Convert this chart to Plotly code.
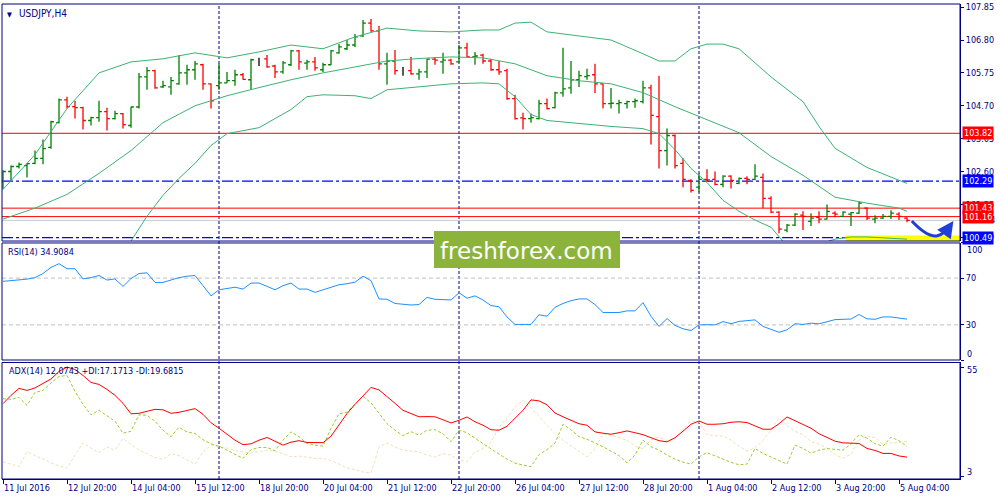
import numpy as np
import plotly.graph_objects as go

# ---- values (bar index 0 = 11 Jul 12:00) ----
tick_idx = [0, 8, 16, 24, 32, 40, 48, 56, 64, 72, 80, 88, 96, 104, 112]
tick_text = ['11 Jul 2016', '12 Jul 20:00', '14 Jul 04:00', '15 Jul 12:00', '18 Jul 20:00',
             '20 Jul 04:00', '21 Jul 12:00', '22 Jul 20:00', '26 Jul 04:00', '27 Jul 12:00',
             '28 Jul 20:00', '1 Aug 04:00', '2 Aug 12:00', '3 Aug 20:00', '5 Aug 04:00']
week_starts = [27, 57, 87]

open_px = [102.29, 102.60, 102.76, 102.79, 102.86, 103.02, 103.37, 104.16, 104.89, 104.67,
           104.64, 104.23, 104.32, 104.51, 104.29, 104.45, 104.07, 104.66, 105.62, 105.82,
           105.30, 105.30, 105.40, 105.75, 105.85, 106.01, 105.40, 105.34, 105.43, 105.50,
           105.69, 105.53, 106.13, 106.20, 105.97, 105.78, 106.01, 106.45, 106.06, 106.10,
           105.85, 106.01, 106.39, 106.52, 106.64, 106.93, 107.34, 107.09, 106.04, 106.13,
           105.82, 105.82, 105.72, 105.78, 106.19, 106.10, 106.16, 106.10, 106.55, 106.26,
           106.32, 106.13, 105.85, 105.82, 104.93, 104.31, 104.29, 104.29, 104.77, 104.64,
           105.11, 105.27, 105.53, 105.63, 105.69, 105.40, 104.77, 104.77, 104.77, 104.83,
           104.83, 105.27, 104.35, 103.27, 103.75, 102.86, 102.32, 102.10, 102.35, 102.35,
           102.19, 102.45, 102.22, 102.38, 102.35, 102.41, 101.74, 101.30, 100.73, 100.89,
           101.21, 101.01, 101.14, 101.08, 101.27, 101.17, 101.24, 101.27, 101.43, 101.08,
           101.11, 101.17, 101.24, 101.11]
high_px = [102.64, 102.79, 102.89, 102.87, 103.27, 103.62, 104.22, 104.93, 104.99, 104.86,
           104.67, 104.35, 104.86, 104.64, 104.54, 104.46, 104.67, 105.75, 105.94, 105.85,
           105.50, 105.62, 106.32, 106.01, 106.13, 106.04, 105.41, 106.04, 105.78, 105.85,
           105.75, 106.20, 106.23, 106.32, 106.01, 106.13, 106.48, 106.48, 106.17, 106.26,
           106.07, 106.48, 106.67, 106.80, 106.99, 107.44, 107.47, 107.25, 106.39, 106.48,
           105.94, 106.26, 105.88, 106.20, 106.26, 106.39, 106.20, 106.64, 106.71, 106.42,
           106.36, 106.20, 106.13, 105.88, 105.05, 104.48, 104.45, 104.89, 104.93, 105.15,
           106.55, 106.13, 105.82, 105.88, 106.04, 105.41, 105.27, 104.89, 104.86, 104.93,
           105.50, 105.37, 105.66, 103.97, 103.78, 103.02, 102.35, 102.54, 102.67, 102.60,
           102.48, 102.48, 102.41, 102.45, 102.83, 102.54, 101.81, 101.33, 100.92, 101.27,
           101.33, 101.27, 101.33, 101.55, 101.33, 101.33, 101.31, 101.65, 101.46, 101.20,
           101.24, 101.36, 101.30, 101.14]
low_px = [102.03, 102.29, 102.70, 102.41, 102.83, 102.83, 103.33, 104.13, 104.61, 104.29,
          103.94, 104.07, 104.19, 103.91, 104.26, 103.97, 104.00, 104.61, 105.21, 105.24,
          105.27, 105.05, 105.37, 105.37, 105.53, 105.21, 104.61, 105.21, 105.43, 105.34,
          105.53, 105.21, 105.97, 105.91, 105.59, 105.72, 105.97, 105.85, 105.85, 105.82,
          105.78, 106.00, 106.36, 106.48, 106.58, 106.90, 107.06, 105.85, 105.37, 105.69,
          105.66, 105.69, 105.53, 105.59, 106.01, 105.72, 106.01, 106.07, 106.23, 106.01,
          106.04, 105.82, 105.69, 104.89, 104.26, 103.94, 104.16, 104.26, 104.58, 104.61,
          104.99, 105.08, 105.30, 105.53, 105.11, 104.61, 104.61, 104.45, 104.61, 104.64,
          104.77, 103.46, 102.70, 102.79, 102.70, 102.10, 101.93, 101.93, 102.29, 102.16,
          102.10, 102.06, 102.19, 102.19, 102.32, 101.43, 101.27, 100.63, 100.66, 100.86,
          100.73, 100.86, 100.95, 101.07, 101.14, 101.14, 100.86, 101.24, 101.05, 100.95,
          101.08, 101.08, 101.05, 100.98]
close_px = [102.60, 102.76, 102.83, 102.85, 103.02, 103.33, 104.19, 104.89, 104.67, 104.64,
            104.23, 104.32, 104.51, 104.29, 104.45, 104.10, 104.66, 105.62, 105.82, 105.27,
            105.34, 105.50, 105.75, 105.85, 106.04, 105.40, 104.86, 105.43, 105.50, 105.69,
            105.54, 106.17, 106.13, 105.94, 105.78, 106.07, 106.45, 106.10, 106.10, 105.91,
            106.01, 106.45, 106.58, 106.64, 106.90, 107.34, 107.09, 106.04, 106.13, 105.82,
            105.82, 105.72, 105.78, 106.19, 106.16, 106.16, 106.04, 106.55, 106.26, 106.29,
            106.13, 105.85, 105.78, 104.93, 104.29, 104.29, 104.32, 104.77, 104.61, 105.11,
            105.24, 105.53, 105.66, 105.66, 105.40, 104.77, 104.78, 104.80, 104.83, 104.86,
            105.27, 104.39, 103.27, 103.75, 102.79, 102.35, 102.00, 102.35, 102.33, 102.19,
            102.45, 102.32, 102.38, 102.35, 102.45, 101.74, 101.30, 100.76, 100.89, 101.24,
            101.17, 101.11, 101.08, 101.33, 101.24, 101.30, 101.29, 101.59, 101.11, 101.11,
            101.17, 101.27, 101.17, 101.04]

# Bollinger bands, read at a subset of bars
bb_up_idx = [0, 4, 8, 12, 16, 20, 24, 28, 32, 36, 40, 44, 48, 52, 56, 60, 62, 64, 66, 68,
             72, 76, 80, 82, 84, 86, 88, 90, 92, 96, 100, 102, 104, 108, 112, 113]
bb_up = [102.03, 103.14, 104.61, 105.75, 106.10, 106.20, 106.39, 106.23, 106.42, 106.64,
         106.52, 106.90, 107.18, 107.09, 107.06, 107.12, 107.12, 107.34, 107.37, 107.06,
         106.93, 106.80, 106.36, 106.13, 106.13, 106.52, 106.67, 106.67, 106.52, 105.62,
         104.83, 104.04, 103.34, 102.73, 102.32, 102.22]
bb_mid_idx = [0, 4, 8, 12, 16, 20, 24, 28, 32, 36, 40, 44, 48, 52, 56, 60, 64, 68, 72, 76,
              80, 84, 88, 92, 96, 100, 104, 108, 112, 113]
bb_mid = [101.08, 101.43, 101.87, 102.54, 103.27, 104.16, 104.70, 105.02, 105.28, 105.53,
          105.75, 105.94, 106.13, 106.21, 106.26, 106.23, 106.04, 105.66, 105.50, 105.40,
          105.12, 104.67, 104.26, 103.84, 103.08, 102.48, 101.78, 101.59, 101.43, 101.33]
bb_low_idx = [14, 16, 18, 20, 22, 24, 26, 28, 32, 36, 38, 40, 44, 46, 48, 52, 56, 60, 62, 64,
              66, 68, 72, 76, 80, 82, 84, 86, 88, 90, 92, 94, 96, 98, 100, 102, 104, 106, 108,
              112, 113]
bb_low = [99.49, 100.38, 101.17, 101.84, 102.38, 102.86, 103.43, 103.81, 104.00, 104.58,
          104.99, 105.05, 105.02, 104.93, 105.21, 105.31, 105.40, 105.43, 105.40, 104.99,
          104.42, 104.23, 104.13, 104.04, 103.97, 103.81, 103.30, 102.70, 102.25, 101.68,
          101.33, 101.05, 100.82, 100.22, 100.16, 100.28, 100.44, 100.51, 100.51, 100.47,
          100.44]

rsi = [67.2, 67.8, 68.7, 69.1, 70.4, 73.9, 79.1, 82.3, 78.0, 78.0,
       69.3, 70.4, 72.2, 68.3, 69.3, 62.9, 69.6, 73.9, 74.5, 66.3,
       66.3, 68.3, 70.4, 71.6, 72.2, 63.5, 54.8, 60.0, 61.3, 62.2,
       60.6, 65.7, 65.8, 62.6, 60.0, 63.5, 65.8, 60.6, 60.6, 57.8,
       60.0, 62.6, 64.3, 65.2, 66.5, 71.6, 67.8, 52.2, 51.9, 48.3,
       47.4, 47.0, 47.4, 53.5, 51.9, 51.7, 51.3, 57.4, 52.8, 54.8,
       51.3, 46.5, 45.5, 36.8, 30.4, 30.4, 30.4, 38.7, 37.4, 45.0,
       48.3, 50.7, 52.2, 52.2, 47.4, 40.6, 40.6, 40.6, 42.0, 42.0,
       49.0, 37.4, 28.7, 35.4, 29.6, 26.7, 25.2, 30.0, 30.2, 30.0,
       32.8, 31.0, 33.0, 33.9, 34.3, 28.7, 26.1, 23.7, 25.8, 31.0,
       30.4, 31.5, 30.9, 33.0, 34.5, 34.8, 35.0, 38.9, 35.2, 34.8,
       36.8, 36.8, 36.1, 34.91]

adx = [37.68, 41.64, 44.98, 44.02, 45.21, 47.36, 49.51, 53.09, 55.23, 54.04,
       51.18, 47.84, 46.88, 44.50, 41.64, 37.82, 32.81, 33.05, 34.01, 34.96,
       34.72, 33.05, 33.53, 34.48, 35.29, 32.57, 28.52, 25.90, 23.03, 20.17,
       18.03, 18.41, 20.17, 21.46, 19.70, 17.79, 19.22, 19.93, 19.07, 18.98,
       18.98, 22.08, 27.80, 32.91, 37.34, 41.16, 45.45, 44.26, 41.16, 37.82,
       34.48, 32.81, 31.38, 31.48, 31.38, 29.95, 28.42, 29.71, 31.29, 29.00,
       27.33, 25.18, 24.94, 26.85, 30.52, 34.48, 39.49, 39.01, 37.11, 33.19,
       31.38, 29.71, 28.04, 27.33, 24.13, 23.51, 23.03, 23.75, 24.61, 23.75,
       22.80, 21.36, 19.93, 19.36, 21.36, 24.47, 27.80, 29.38, 27.80, 27.80,
       28.04, 28.76, 29.00, 28.61, 26.85, 25.42, 25.42, 28.04, 31.29, 29.38,
       27.57, 25.90, 23.27, 21.36, 19.70, 18.88, 18.60, 18.60, 16.21, 15.26,
       13.83, 13.83, 12.60, 12.07]
plus_di = [40.06, 39.73, 40.68, 36.87, 43.07, 44.02, 47.60, 50.70, 51.18, 43.55,
           37.34, 32.34, 34.48, 31.86, 29.24, 23.51, 24.47, 32.34, 32.10, 29.24,
           24.94, 21.84, 26.37, 24.13, 23.37, 20.41, 18.41, 17.31, 15.40, 13.49,
           11.44, 15.64, 16.69, 16.69, 15.16, 20.17, 24.13, 21.84, 18.60, 17.79,
           17.31, 25.90, 32.81, 33.62, 37.34, 41.16, 38.06, 33.05, 28.14, 24.94,
           22.32, 24.23, 22.56, 24.94, 25.18, 23.27, 19.46, 24.94, 23.75, 21.13,
           18.60, 15.64, 13.49, 11.11, 9.20, 8.25, 7.53, 13.26, 15.64, 18.74,
           27.80, 25.18, 21.84, 20.65, 18.98, 17.07, 14.93, 12.78, 9.34, 13.02,
           20.17, 17.07, 15.40, 13.02, 11.11, 9.68, 8.72, 12.21, 14.21, 12.78,
           11.11, 9.53, 8.39, 8.72, 16.21, 13.83, 12.06, 10.39, 8.72, 17.79,
           16.21, 13.97, 15.40, 16.12, 15.64, 15.40, 18.50, 22.80, 21.13, 18.50,
           17.31, 21.60, 19.93, 17.17]
minus_di = [9.82, 8.72, 7.53, 14.59, 13.02, 11.11, 9.20, 7.77, 6.67, 13.02,
            18.88, 16.36, 14.21, 16.98, 15.40, 20.98, 18.26, 15.40, 13.73, 11.82,
            11.11, 13.73, 12.78, 10.87, 8.72, 14.59, 17.79, 17.07, 16.36, 15.16,
            14.45, 13.97, 14.69, 15.40, 14.69, 13.73, 12.21, 12.54, 12.06, 11.44,
            11.44, 10.39, 8.72, 6.82, 6.10, 4.91, 4.43, 16.83, 18.88, 16.83,
            15.40, 15.02, 14.59, 13.02, 12.06, 13.73, 13.02, 10.63, 9.92, 14.45,
            16.12, 19.22, 26.37, 30.90, 35.91, 39.25, 35.67, 31.86, 27.33, 23.27,
            20.17, 17.55, 14.93, 12.21, 15.88, 23.27, 22.56, 21.36, 20.17, 17.31,
            16.12, 20.41, 21.75, 19.93, 21.13, 25.18, 29.24, 29.00, 22.80, 22.32,
            22.08, 20.17, 17.31, 14.93, 16.59, 20.17, 24.94, 30.90, 27.09, 24.47,
            22.80, 19.46, 18.26, 16.36, 13.26, 11.44, 13.49, 20.17, 22.22, 21.36,
            18.03, 18.98, 18.88, 19.68]

price_ticks = [107.85, 106.80, 105.75, 104.70, 103.65, 102.60, 101.55, 100.50]
red_levels = [103.82, 101.43, 101.16]
blue_levels = [102.29, 100.49]
bid_price = 101.04

NAVY = '#000080'
GREEN = '#008000'
RED = '#ff0000'
BLUE = '#0000ff'
BAND = '#3cb371'
FONT = 'DejaVu Sans Condensed, Liberation Sans, sans-serif'

D_PRICE = [0.501, 1.0]
D_RSI = [0.2505, 0.4969]
D_ADX = [0.0, 0.2453]

fig = go.Figure()

# price bars: up / down / doji
idx = np.arange(len(close_px))
o, h, l, c = (np.array(a) for a in (open_px, high_px, low_px, close_px))
for mask, col in [(c > o, GREEN), (c < o, RED), (c == o, '#000000')]:
    xs = idx[mask]
    step = np.diff(xs).min() if len(xs) > 1 else 1
    fig.add_trace(go.Ohlc(x=xs, open=o[mask], high=h[mask], low=l[mask], close=c[mask],
                          increasing_line_color=col, decreasing_line_color=col,
                          line_width=1.3, tickwidth=min(0.5, 0.36 / step),
                          hoverinfo='skip', showlegend=False, xaxis='x', yaxis='y'))

for bx, by in [(bb_up_idx, bb_up), (bb_mid_idx, bb_mid), (bb_low_idx, bb_low)]:
    fig.add_trace(go.Scatter(x=bx, y=by, mode='lines', line=dict(color=BAND, width=1),
                             hoverinfo='skip', showlegend=False, xaxis='x', yaxis='y'))

fig.add_trace(go.Scatter(x=idx, y=rsi, mode='lines', line=dict(color='#1e90ff', width=1),
                         hoverinfo='skip', showlegend=False, xaxis='x', yaxis='y2'))

fig.add_trace(go.Scatter(x=idx, y=minus_di, mode='lines',
                         line=dict(color='#f5deb3', width=1, dash='3px,2px'),
                         hoverinfo='skip', showlegend=False, xaxis='x', yaxis='y3'))
fig.add_trace(go.Scatter(x=idx, y=plus_di, mode='lines',
                         line=dict(color='#9acd32', width=1, dash='3px,2px'),
                         hoverinfo='skip', showlegend=False, xaxis='x', yaxis='y3'))
fig.add_trace(go.Scatter(x=idx, y=adx, mode='lines', line=dict(color=RED, width=1),
                         hoverinfo='skip', showlegend=False, xaxis='x', yaxis='y3'))

shapes = []
# yellow highlight under the last bars
shapes.append(dict(type='rect', xref='x', yref='y', x0=105.3, x1=119.6, y0=100.38, y1=100.56,
                   fillcolor='#ffff00', line=dict(width=0), layer='below'))
for w in week_starts:
    shapes.append(dict(type='line', xref='x', yref='paper', x0=w, x1=w, y0=0, y1=1,
                       line=dict(color=NAVY, width=1, dash='3px,2px'), layer='below'))
for p in red_levels:
    shapes.append(dict(type='line', xref='paper', yref='y', x0=0, x1=1, y0=p, y1=p,
                       line=dict(color=RED, width=1), layer='below'))
for p in blue_levels:
    shapes.append(dict(type='line', xref='paper', yref='y', x0=0, x1=1, y0=p, y1=p,
                       line=dict(color=BLUE, width=1.3, dash='11px,3px,3px,3px'), layer='below'))
shapes.append(dict(type='line', xref='paper', yref='y', x0=0, x1=1, y0=bid_price, y1=bid_price,
                   line=dict(color='#c8c8c8', width=1), layer='below'))
for lv in (70, 30):
    shapes.append(dict(type='line', xref='paper', yref='y2', x0=0, x1=1, y0=lv, y1=lv,
                       line=dict(color='#c0c0c0', width=1, dash='4px,3px'), layer='below'))
# panel frames
for d in (D_PRICE, D_RSI, D_ADX):
    shapes.append(dict(type='rect', xref='paper', yref='paper', x0=0, x1=1, y0=d[0], y1=d[1],
                       line=dict(color=NAVY, width=1), layer='above'))
# logo box
shapes.append(dict(type='rect', xref='paper', yref='paper', x0=0.4509, x1=0.6451,
                   y0=0.4444, y1=0.5220, fillcolor='#8cb43c', line=dict(width=0), layer='above'))
# hand-drawn arrow
shapes.append(dict(type='path', xref='x', yref='y',
                   path='M 113.6,101.02 Q 115.6,100.48 116.8,100.55 Q 117.8,100.62 118.3,100.86',
                   line=dict(color='#1f3fd6', width=3)))

ann = []


def txt(x, y, s, xref='paper', yref='paper', **kw):
    d = dict(x=x, y=y, xref=xref, yref=yref, text=s, showarrow=False,
             font=dict(family=FONT, size=9, color=NAVY))
    d.update(kw)
    ann.append(d)


txt(0, 1, '▼', xanchor='left', yanchor='top', xshift=3, yshift=-5, font=dict(size=7, color=NAVY))
txt(0, 1, 'USDJPY,H4', xanchor='left', yanchor='top', xshift=15, yshift=-2,
    font=dict(family=FONT, size=10, color=NAVY))
txt(0, D_RSI[1], 'RSI(14) 34.9084', xanchor='left', yanchor='top', xshift=4, yshift=-2)
txt(0, D_ADX[1], 'ADX(14) 12.0743 +DI:17.1713 -DI:19.6815', xanchor='left', yanchor='top',
    xshift=5, yshift=-2)
txt(1, 94, '100', yref='y2', xanchor='left', xshift=5)
txt(1, 5.5, '0', yref='y2', xanchor='left', xshift=5)
txt(1, 54.0, '55', yref='y3', xanchor='left', xshift=5)
txt(1, 4.9, '3', yref='y3', xanchor='left', xshift=5)
txt(1, bid_price, '101.04', yref='y', xanchor='left', xshift=5, bgcolor='#ffffff')
for p in red_levels[:1] + blue_levels[:1] + red_levels[1:] + blue_levels[1:]:
    col = RED if p in red_levels else BLUE
    txt(1, p, f'{p:.2f}', yref='y', xanchor='left', xshift=2, bgcolor=col, borderpad=1,
        font=dict(family=FONT, size=9, color='#ffffff'))
txt(0.548, 0.481, 'freshforex.com', font=dict(family='DejaVu Sans', size=23, color='#ffffff'))
ann.append(dict(x=118.8, y=101.02, ax=118.15, ay=100.78, xref='x', yref='y', axref='x',
                ayref='y', text='', showarrow=True, arrowhead=2, arrowsize=1.1, arrowwidth=3,
                arrowcolor='#1f3fd6'))

axis_font = dict(family=FONT, size=9, color=NAVY)
yax = dict(side='right', anchor='x', showgrid=False, zeroline=False, ticks='outside',
           ticklen=3, tickcolor=NAVY, tickfont=axis_font, showline=True, linecolor=NAVY,
           fixedrange=True)

fig.update_layout(
    width=1000, height=500,
    margin=dict(l=2, r=40, t=2, b=21),
    paper_bgcolor='white', plot_bgcolor='white',
    showlegend=False,
    font=dict(family=FONT, size=9, color=NAVY),
    xaxis=dict(domain=[0, 1], anchor='y3', range=[-0.125, 119.625], tickvals=tick_idx,
               ticktext=tick_text, ticks='outside', ticklen=4, tickcolor=NAVY,
               ticklabelposition='outside right', tickfont=axis_font, showgrid=False,
               zeroline=False, showline=True, linecolor=NAVY, rangeslider=dict(visible=False),
               fixedrange=True),
    yaxis=dict(domain=D_PRICE, range=[100.38, 107.95], tickvals=price_ticks,
               tickformat='.2f', **yax),
    yaxis2=dict(domain=D_RSI, range=[0, 100], tickvals=[100, 70, 30, 0],
                ticktext=['', '70', '30', ''], **yax),
    yaxis3=dict(domain=D_ADX, range=[1.57, 57.4], tickvals=[55, 3], ticktext=['', ''], **yax),
    shapes=shapes,
    annotations=ann,
)

# page body has a default 8px margin; drop it so the figure sits at the window corner
fig.write_html('out.html', config={'displayModeBar': False},
               post_script="document.body.style.margin='0px';")
